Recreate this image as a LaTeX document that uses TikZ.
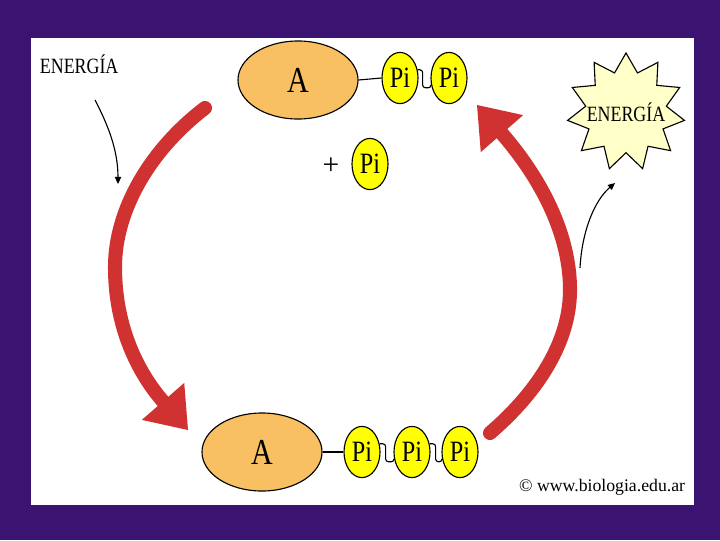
\documentclass[tikz,border=0pt]{standalone}
\usepackage{fontspec}
\setmainfont{Liberation Serif}
\newfontfamily\narrowfont[FakeStretch=0.82]{Liberation Serif}
\usetikzlibrary{shapes.geometric,arrows.meta}
\definecolor{bgpurple}{RGB}{58,20,112}
\definecolor{adenine}{RGB}{249,192,99}
\definecolor{phos}{RGB}{255,255,0}
\definecolor{flash}{RGB}{255,255,200}
\definecolor{cyclered}{RGB}{208,50,50}

\begin{document}
\begin{tikzpicture}[x=0.025cm,y=-0.025cm,
  outline/.style={draw=black,line width=0.8pt,inner sep=0pt},
  adenosine/.style={outline,ellipse,fill=adenine,minimum width=3cm,minimum height=1.95cm,
    font=\narrowfont\fontsize{26}{26}\selectfont},
  phosphate/.style={outline,ellipse,fill=phos,minimum width=0.9cm,minimum height=1.28cm,
    font=\narrowfont\fontsize{21}{21}\selectfont},
  energy/.style={font=\narrowfont\fontsize{15.5}{15.5}\selectfont},
  bond/.style={draw=black,line width=0.8pt},
  wavebond/.style={bond,rounded corners=2pt},
  cyclearrow/.style={draw=cyclered,line width=10pt,line cap=round,
    -{Triangle[length=27pt,width=40pt,line width=0pt]}},
  thinarrow/.style={draw=black,line width=0.8pt,-{Triangle[length=5pt,width=4.5pt]}}]

% background
\fill[bgpurple] (0,0) rectangle (720,540);
\fill[white] (31,38) rectangle (694,505);

% ATP on top
\node[adenosine] (topA) at (298,80) {A};
\node[phosphate] (topP1) at (400,78) {Pi};
\node[phosphate] (topP2) at (449,78) {Pi};
\draw[bond] (topA.east) -- (topP1.west);
\draw[wavebond] (topP1.25) -| ++(5,18) -| (topP2.200);

\node[font=\fontsize{21}{21}\selectfont] (plus) at (331,166) {+};
\node[phosphate] (freeP) at (370,164) {Pi};

% ADP at the bottom
\node[adenosine] (botA) at (262,452) {A};
\node[phosphate] (botP1) at (362,452) {Pi};
\node[phosphate] (botP2) at (412,452) {Pi};
\node[phosphate] (botP3) at (460,452) {Pi};
\draw[bond] (botA.east) -- (botP1.west);
\draw[wavebond] (botP1.25) -| ++(6,18) -| (botP2.200);
\draw[wavebond] (botP2.25) -| ++(6,18) -| (botP3.200);

% energy in and out
\node[energy,anchor=base west] (gain) at (35,73) {ENERGÍA};
\node[star,star points=11,star point ratio=1.45,draw=black,line width=0.8pt,
  fill=flash,inner sep=0pt,minimum size=2.95cm] (release) at (626,112) {};
\node[energy] (releaseText) at (release.center) {ENERGÍA};
\node[anchor=base east,font=\fontsize{12.6}{14}\selectfont] (source) at (690,491)
  {© www.biologia.edu.ar};

\coordinate (inS) at (95,100);
\coordinate (inE) at (118,184);
\draw[thinarrow] (inS) .. controls (108,125) and (118,150) .. (inE);
\coordinate (outS) at (580,268);
\coordinate (outE) at (615,183);
\draw[thinarrow] (outS) .. controls (582,230) and (595,200) .. (outE);

% the cycle
\coordinate (downS) at (205,108);
\coordinate (downE) at (188,430);
\draw[cyclearrow] (downS) .. controls (150,150) and (115,210) .. (115,267)
  .. controls (115,330) and (140,375) .. (downE);
\coordinate (upS) at (490,433);
\coordinate (upE) at (477,105);
\draw[cyclearrow] (upS) .. controls (540,390) and (570,340) .. (570,290)
  .. controls (570,220) and (525,160) .. (upE);
\end{tikzpicture}
\end{document}
